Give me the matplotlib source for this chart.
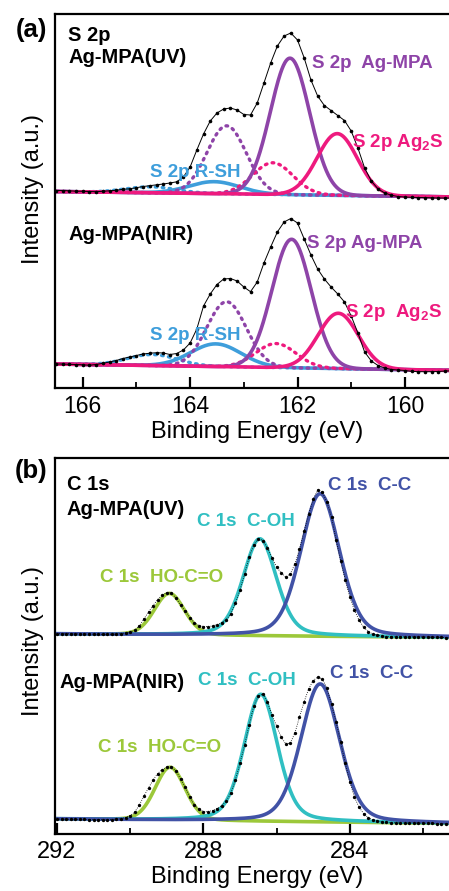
import numpy as np
import matplotlib
matplotlib.use('Agg')
import matplotlib.pyplot as plt
from matplotlib.ticker import MultipleLocator

plt.rcParams['font.family'] = ['Liberation Sans', 'DejaVu Sans']
plt.rcParams['mathtext.fontset'] = 'custom'
plt.rcParams['mathtext.rm'] = 'Liberation Sans'
plt.rcParams['mathtext.bf'] = 'Liberation Sans:bold'

# ---------------- data: S 2p ----------------
s2p_energy = np.linspace(166.5, 159.0, 61)
s2p_uv_counts = [197.5, 197.5, 197.2, 196.8, 196.7, 196.5, 196.3, 196.7, 197.2, 197.8,
                 198.7, 199.2, 200.3, 201.5, 202.3, 203.2, 204.0, 205.0, 206.2, 211.0,
                 221.0, 238.0, 254.0, 267.0, 275.0, 279.0, 280.0, 278.0, 273.5, 273.0,
                 285.0, 305.0, 325.0, 342.0, 352.0, 355.0, 348.0, 330.0, 308.0, 292.0,
                 282.5, 277.5, 272.5, 267.5, 257.0, 240.0, 220.0, 207.0, 199.0, 195.0,
                 192.7, 191.5, 191.0, 190.7, 190.5, 190.4, 190.2, 190.0, 190.0, 190.0, 190.0]
s2p_nir_counts = [24.0, 24.0, 23.7, 23.5, 23.2, 22.8, 23.5, 24.7, 26.0, 27.5,
                  29.5, 31.0, 32.5, 34.0, 34.8, 35.3, 35.0, 33.5, 34.5, 38.0,
                  45.0, 59.0, 82.0, 94.0, 103.5, 109.0, 109.5, 107.0, 101.0, 96.3,
                  106.0, 125.0, 141.0, 156.0, 166.0, 169.5, 165.0, 149.0, 133.0, 119.0,
                  109.0, 101.0, 94.0, 86.0, 72.0, 55.0, 36.0, 27.0, 22.5, 20.0,
                  18.5, 18.0, 17.5, 16.7, 16.3, 16.3, 16.3, 16.5, 17.0, 17.2, 17.2]

# fitted components: Ag-MPA 2p3/2, Ag-MPA 2p1/2, Ag2S 2p3/2, Ag2S 2p1/2, R-SH 2p3/2, R-SH 2p1/2
s2p_fwhm = [0.86, 0.86, 0.88, 0.88, 1.10, 1.10]
s2p_uv_center = [162.14, 163.32, 161.26, 162.46, 163.55, 164.73]
s2p_uv_height = [136.5, 68.0, 61.7, 31.7, 12.0, 6.0]
s2p_uv_bg = [196.5, 191.0]       # background at 166.5 eV and 159 eV
s2p_nir_center = [162.11, 163.32, 161.24, 162.40, 163.52, 164.70]
s2p_nir_height = [128.5, 65.0, 55.3, 24.0, 22.7, 11.0]
s2p_nir_bg = [24.0, 17.5]

# ---------------- data: C 1s ----------------
c1s_energy = np.linspace(292.0, 281.0, 89)
c1s_uv_counts = [200.5, 200.5, 200.3, 200.3, 200.2, 200.0, 200.0, 200.0, 199.8, 199.7,
                 199.7, 199.7, 199.8, 200.0, 200.5, 201.0, 202.0, 203.7, 208.0, 215.0,
                 222.0, 228.5, 234.5, 239.0, 241.5, 241.0, 236.0, 229.0, 223.0, 216.5,
                 211.5, 208.5, 207.5, 207.5, 208.0, 209.5, 211.5, 214.5, 220.0, 231.0,
                 244.0, 260.0, 277.0, 289.0, 295.5, 293.5, 286.0, 276.0, 267.0, 261.0,
                 257.0, 260.0, 270.0, 285.0, 303.0, 320.0, 335.0, 344.0, 342.0, 332.0,
                 317.0, 294.0, 273.0, 254.0, 237.0, 224.0, 214.0, 207.0, 202.5, 200.0,
                 198.7, 198.0, 197.5, 197.4, 197.3, 197.2, 197.2, 197.1, 197.0, 197.0,
                 197.0, 196.9, 196.8, 196.7, 196.6, 196.5, 196.4, 196.4, 196.4]
c1s_nir_counts = [15.0, 15.0, 14.8, 14.8, 14.7, 14.7, 14.6, 14.5, 14.5, 14.4,
                  14.3, 14.3, 14.5, 14.8, 15.3, 16.5, 18.5, 22.0, 29.0, 38.0,
                  46.0, 54.0, 60.5, 64.5, 67.0, 67.0, 63.0, 55.0, 47.0, 37.0,
                  29.0, 25.0, 22.5, 22.3, 23.5, 25.5, 28.5, 33.0, 41.0, 54.0,
                  71.0, 89.0, 109.0, 128.0, 138.0, 140.0, 132.0, 119.0, 108.0, 97.0,
                  90.0, 91.0, 101.0, 117.0, 132.0, 145.0, 153.5, 157.0, 155.0, 146.0,
                  130.0, 112.0, 92.0, 71.0, 52.0, 37.0, 27.0, 20.5, 16.5, 14.2,
                  13.0, 12.2, 11.7, 11.5, 11.3, 11.2, 11.1, 11.0, 11.0, 10.9,
                  10.8, 10.7, 10.6, 10.5, 10.4, 10.3, 10.2, 10.1, 10.0]

# components: HO-C=O, C-OH, C-C
c1s_fwhm = [0.97, 1.08, 1.25]
c1s_lorentz_frac = [0.15, 0.30, 0.25]
c1s_uv_center = [288.93, 286.46, 284.81]
c1s_uv_height = [41.6, 97.0, 142.6]
c1s_uv_bg = [200.0, 196.5]     # at 292 eV and 281 eV
c1s_nir_center = [288.91, 286.43, 284.81]
c1s_nir_height = [53.0, 127.0, 138.0]
c1s_nir_bg = [15.0, 10.5]

# ---------------- styling ----------------
PURPLE = '#8E44A8'
PINK = '#EE1A7E'
LBLUE = '#3E9EDB'
GREEN = '#9CC83A'
CYAN = '#30BFC2'
DBLUE = '#4152A6'


def peak(e, c, h, w, eta=0.0):
    g = np.exp(-4 * np.log(2) * ((e - c) / w) ** 2)
    lo = 1.0 / (1.0 + 4 * ((e - c) / w) ** 2)
    return h * ((1 - eta) * g + eta * lo)


def background(e, bg, e0, e1):
    return bg[0] + (bg[1] - bg[0]) * (e0 - e) / (e0 - e1)


fig = plt.figure(figsize=(4.49, 8.91), dpi=100)
W, H = 449.0, 891.0
axA = fig.add_axes([55 / W, 1 - 388 / H, 403.6 / W, 374 / H])
axB = fig.add_axes([55 / W, 1 - 834 / H, 404.6 / W, 376 / H])

dotted = (0, (0.5, 1.6))

# ---- panel a ----
ea = np.linspace(166.6, 158.9, 800)
s2p_styles = [(PURPLE, '-'), (PURPLE, dotted), (PINK, '-'), (PINK, dotted), (LBLUE, '-'), (LBLUE, dotted)]
order = [4, 5, 1, 3, 0, 2]
for centers, heights, bg, counts in [(s2p_uv_center, s2p_uv_height, s2p_uv_bg, s2p_uv_counts),
                                     (s2p_nir_center, s2p_nir_height, s2p_nir_bg, s2p_nir_counts)]:
    base = background(ea, bg, 166.5, 159.0)
    for i in order:
        col, ls = s2p_styles[i]
        axA.plot(ea, base + peak(ea, centers[i], heights[i], s2p_fwhm[i]), color=col,
                 ls=ls, lw=2.6 if ls == '-' else 2.4, dash_capstyle='round', solid_capstyle='butt')
    axA.plot(s2p_energy, counts, color='black', lw=0.7, marker='o', ms=2.6, mew=0)

axA.set_xlim(166.516, 159.0)
axA.set_ylim(0, 374)
axA.xaxis.set_major_locator(MultipleLocator(2))
axA.xaxis.set_minor_locator(MultipleLocator(1))

# ---- panel b ----
eb = np.linspace(292.2, 280.8, 1000)
c1s_colors = [GREEN, CYAN, DBLUE]
for centers, heights, bg, counts in [(c1s_uv_center, c1s_uv_height, c1s_uv_bg, c1s_uv_counts),
                                     (c1s_nir_center, c1s_nir_height, c1s_nir_bg, c1s_nir_counts)]:
    base = background(eb, bg, 292.0, 281.0)
    for i in range(3):
        axB.plot(eb, base + peak(eb, centers[i], heights[i], c1s_fwhm[i], c1s_lorentz_frac[i]),
                 color=c1s_colors[i], lw=2.6)
    axB.plot(c1s_energy, counts, color='black', lw=0.6, ls=':', marker='o', ms=2.4, mew=0)

axB.set_xlim(292.055, 281.0)
axB.set_ylim(0, 376)
axB.xaxis.set_major_locator(MultipleLocator(4))
axB.xaxis.set_minor_locator(MultipleLocator(2))

for ax, ly, tfs in [(axA, 0.533, 16.5), (axB, 0.513, 17)]:
    for s in ax.spines.values():
        s.set_linewidth(1.6)
    ax.tick_params(axis='x', which='major', direction='in', length=8, width=1.6, labelsize=tfs, pad=5, top=False)
    ax.tick_params(axis='x', which='minor', direction='in', length=4, width=1.3, top=False)
    ax.tick_params(axis='y', which='both', left=False, labelleft=False, right=False)
    ax.set_xlabel('Binding Energy (eV)', fontsize=17, labelpad=2)
    ax.set_ylabel('Intensity (a.u.)', fontsize=17)
    ax.yaxis.set_label_coords(-0.027, ly)

# ---- texts panel a ----
fs_k = 14.5
fs_c = 13.5
axA.text(166.27, 347, 'S 2p', fontsize=fs_k, fontweight='bold', color='black')
axA.text(166.27, 325, 'Ag-MPA(UV)', fontsize=fs_k, fontweight='bold', color='black')
axA.text(161.73, 320, 'S 2p  Ag-MPA', fontsize=fs_c, fontweight='bold', color=PURPLE)
axA.text(160.99, 241, r'S 2p Ag$_\mathbf{2}$S', fontsize=fs_c, fontweight='bold', color=PINK)
axA.text(164.75, 211, 'S 2p R-SH', fontsize=fs_c, fontweight='bold', color=LBLUE)
axA.text(166.27, 148, 'Ag-MPA(NIR)', fontsize=fs_k, fontweight='bold', color='black')
axA.text(161.82, 140, 'S 2p Ag-MPA', fontsize=fs_c, fontweight='bold', color=PURPLE)
axA.text(161.12, 71, r'S 2p  Ag$_\mathbf{2}$S', fontsize=fs_c, fontweight='bold', color=PINK)
axA.text(164.75, 48, 'S 2p R-SH', fontsize=fs_c, fontweight='bold', color=LBLUE)

# ---- texts panel b ----
axB.text(291.73, 344, 'C 1s', fontsize=fs_k, fontweight='bold', color='black')
axB.text(291.73, 319, 'Ag-MPA(UV)', fontsize=fs_k, fontweight='bold', color='black')
axB.text(288.17, 308, 'C 1s  C-OH', fontsize=fs_c, fontweight='bold', color=CYAN)
axB.text(284.60, 344, 'C 1s  C-C', fontsize=fs_c, fontweight='bold', color=DBLUE)
axB.text(290.83, 252, 'C 1s  HO-C=O', fontsize=fs_c, fontweight='bold', color=GREEN)
axB.text(291.92, 146, 'Ag-MPA(NIR)', fontsize=fs_k, fontweight='bold', color='black')
axB.text(288.15, 149, 'C 1s  C-OH', fontsize=fs_c, fontweight='bold', color=CYAN)
axB.text(284.54, 156, 'C 1s  C-C', fontsize=fs_c, fontweight='bold', color=DBLUE)
axB.text(290.88, 82, 'C 1s  HO-C=O', fontsize=fs_c, fontweight='bold', color=GREEN)

fig.text(31 / W, 1 - 30 / H, '(a)', fontsize=18.5, fontweight='bold', ha='center', va='center')
fig.text(31 / W, 1 - 471 / H, '(b)', fontsize=18.5, fontweight='bold', ha='center', va='center')

fig.savefig('out.png', dpi=100)
